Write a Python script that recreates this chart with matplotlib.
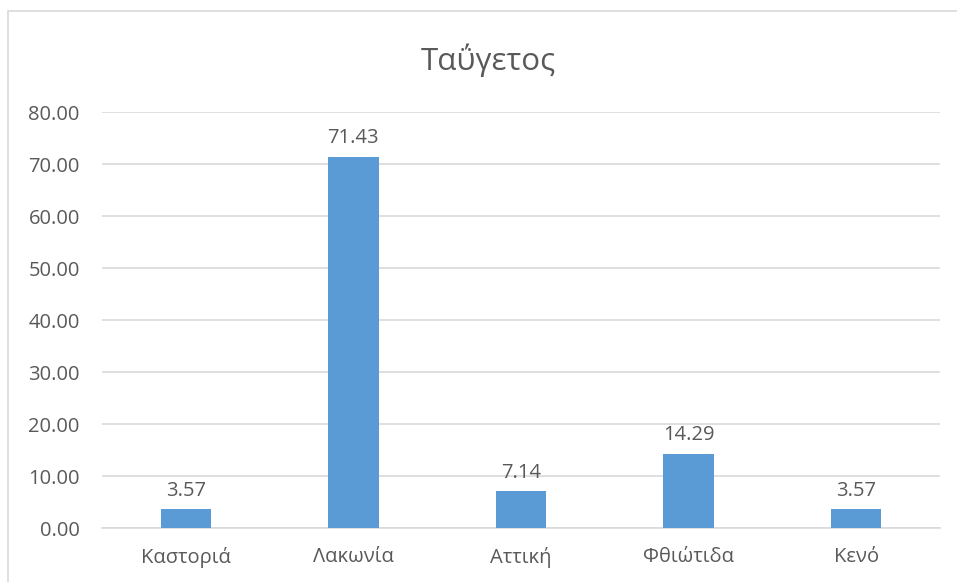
import matplotlib.pyplot as plt
from matplotlib.patches import Rectangle

categories = ["Καστοριά", "Λακωνία", "Αττική", "Φθιώτιδα", "Κενό"]
values = [3.57, 71.43, 7.14, 14.29, 3.57]
yticks = [0, 10, 20, 30, 40, 50, 60, 70, 80]

plt.rcParams['font.family'] = ['Open Sans', 'DejaVu Sans']
text_col = "#595959"

fig = plt.figure(figsize=(9.57, 5.82), dpi=100)
# chart frame
fig.patches.append(Rectangle((8/957, -0.1), 1.2, 1 - 11/582 + 0.1, transform=fig.transFigure,
                             fill=False, edgecolor="#D9D9D9", linewidth=1.2))

ax = fig.add_axes([102/957, 1 - 528/582, 838/957, 416/582])
x = range(len(categories))
bars = ax.bar(x, values, width=0.3, color="#5B9BD5", zorder=3)

for xi, v in zip(x, values):
    ax.annotate(f"{v:.2f}", (xi, v), xytext=(0, 6), textcoords="offset points",
                ha="center", va="bottom", fontsize=14.5, color=text_col)

ax.set_xlim(-0.5, len(categories) - 0.5)
ax.set_ylim(0, 80)
ax.set_yticks(yticks)
ax.set_yticklabels([f"{t:.2f}" for t in yticks])
ax.set_xticks(list(x))
ax.set_xticklabels(categories)
ax.tick_params(length=0, labelsize=14.5, colors=text_col)
ax.tick_params(axis="y", pad=16)
ax.tick_params(axis="x", pad=14)
ax.grid(axis="y", color="#D9D9D9", linewidth=1.2, zorder=0)
for s in ["left", "right", "top"]:
    ax.spines[s].set_visible(False)
ax.spines["bottom"].set_color("#D9D9D9")
ax.spines["bottom"].set_linewidth(1.2)

fig.text(488 / 957, 1 - 60/582, "Ταΰγετος", ha="center", va="center",
         fontsize=22.5, color=text_col)

fig.savefig("out.png", dpi=100)
